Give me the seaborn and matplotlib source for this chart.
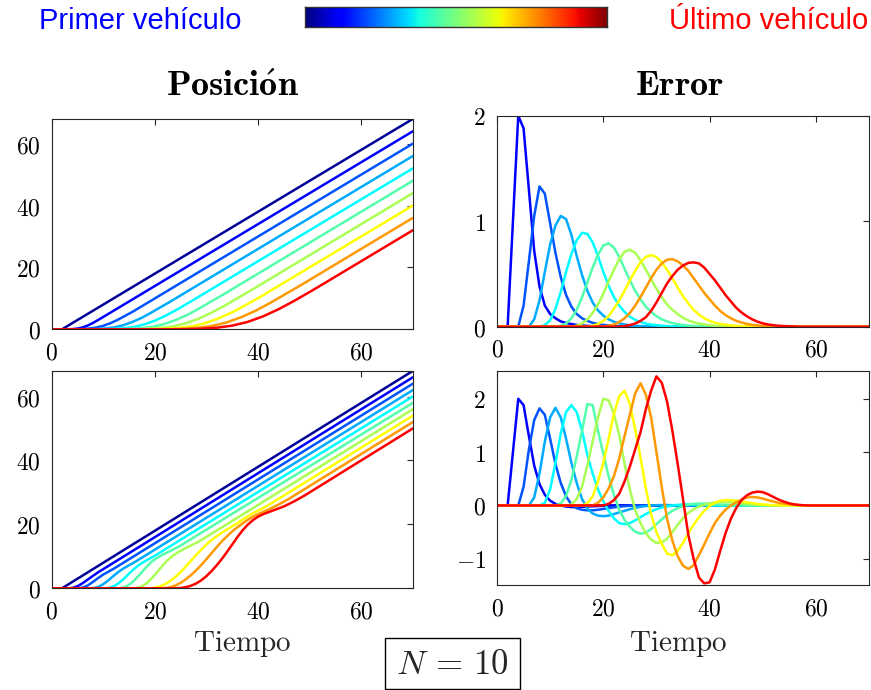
import numpy as np
import pandas as pd
import matplotlib
matplotlib.use("Agg")
import matplotlib.pyplot as plt
import seaborn as sns
from matplotlib.patches import Rectangle
from matplotlib.ticker import FuncFormatter, FixedLocator

# ---------------- data ----------------
vehicles = [1, 2, 3, 4, 5, 6, 7, 8, 9, 10]
line_colors = [(0, 0, 0.6), (0, 0, 1), (0, 0.33, 1), (0, 0.67, 1), (0, 1, 1),
               (0.33, 1, 0.67), (0.67, 1, 0.33), (1, 1, 0), (1, 0.6, 0), (1, 0, 0)]
t_final = 70

# Position (top row): knots (time, position) per vehicle
pos_top_t = [
    [0, 2, 70],
    [0, 2, 3, 4, 5, 6, 7, 8, 9, 10, 70],
    [0, 3, 4.3, 5.8, 7.2, 8.6, 10, 11.4, 12.8, 14.2, 15.7, 17.1, 70],
    [0, 5.3, 7.1, 8.8, 10.5, 12.3, 14, 15.7, 17.5, 19.2, 20.9, 22.7, 70],
    [0, 8, 10, 12, 14, 16, 18, 20, 22, 24, 26, 28, 70],
    [0, 10.8, 13.1, 15.3, 17.5, 19.8, 22, 24.2, 26.5, 28.7, 30.9, 33.2, 70],
    [0, 13.8, 16.2, 18.7, 21.1, 23.6, 26, 28.5, 30.9, 33.4, 35.8, 38.3, 70],
    [0, 16.8, 19.4, 22.1, 24.7, 27.4, 30, 32.6, 35.3, 37.9, 40.6, 43.2, 70],
    [0, 19.9, 22.7, 25.5, 28.3, 31.2, 34, 36.8, 39.7, 42.5, 45.3, 48.2, 70],
    [0, 23, 26, 29, 32, 35, 38, 41, 44, 47, 50, 53, 70],
]
pos_top_x = [
    [0, 0, 68],
    [0, 0, 0.01, 0.06, 0.23, 0.6, 1.23, 2.06, 3.01, 4.0, 64],
    [0, 0.01, 0.02, 0.08, 0.24, 0.56, 1.13, 1.98, 3.07, 4.33, 5.68, 7.08, 60],
    [0, 0.01, 0.03, 0.1, 0.29, 0.68, 1.38, 2.41, 3.75, 5.29, 6.95, 8.66, 56],
    [0, 0.01, 0.03, 0.12, 0.33, 0.79, 1.6, 2.79, 4.33, 6.12, 8.03, 10.01, 52],
    [0, 0.01, 0.04, 0.13, 0.37, 0.88, 1.78, 3.12, 4.84, 6.84, 8.98, 11.18, 48],
    [0, 0.01, 0.04, 0.14, 0.41, 0.97, 1.96, 3.42, 5.31, 7.49, 9.84, 12.26, 44],
    [0, 0.01, 0.05, 0.16, 0.44, 1.05, 2.11, 3.69, 5.73, 8.09, 10.63, 13.24, 40],
    [0, 0.01, 0.05, 0.17, 0.47, 1.12, 2.26, 3.95, 6.13, 8.66, 11.37, 14.16, 36],
    [0, 0.01, 0.05, 0.18, 0.5, 1.19, 2.39, 4.19, 6.5, 9.18, 12.05, 15.01, 32],
]

# Position (bottom row): knots (time, position) per vehicle
pos_bot_t = [
    [0, 2, 70],
    [0, 3, 4, 5, 6, 7, 8, 9, 70],
    [0, 5, 6, 7, 8, 9, 10, 11, 12, 70],
    [0, 7.5, 8, 9, 10, 11, 12, 13, 14, 15, 16, 70],
    [0, 10, 11, 12, 13, 14, 15, 16, 17, 18, 19, 20, 70],
    [0, 12.5, 13.5, 14.5, 15.5, 16.5, 17.5, 18.5, 19.5, 20.5, 21.5, 22.5, 23.5, 24.5, 70],
    [0, 15.5, 16.5, 17.5, 18.5, 19.5, 20.5, 21.5, 22.5, 23.5, 24.5, 25.5, 26.5, 27.5, 28.5, 70],
    [0, 19, 20, 21, 22, 23, 24, 25, 26, 27, 28, 29, 30, 31, 32, 33, 34, 35, 36, 37,
     38, 39, 40, 41, 42, 43, 70],
    [0, 21, 22, 23, 24, 25, 26, 27, 28, 29, 30, 31, 32, 33, 34, 35, 36, 37, 38, 39,
     40, 41, 42, 43, 44, 45, 46, 47, 48, 70],
    [0, 24, 25, 26, 27, 28, 29, 30, 31, 32, 33, 34, 35, 36, 37, 38, 39, 40, 41, 42,
     43, 44, 45, 46, 47, 48, 49, 50, 70],
]
pos_bot_x = [
    [0, 0, 68],
    [0, 0, 0.1, 0.65, 1.6, 2.75, 3.9, 5.0, 66],
    [0, 0, 0.2, 0.9, 2.0, 3.2, 4.3, 5.2, 6.1, 64],
    [0, 0, 0.05, 0.4, 1.3, 2.5, 3.9, 5.2, 6.3, 7.2, 8.1, 62],
    [0, 0, 0.1, 0.6, 1.6, 3.0, 4.6, 6.1, 7.4, 8.4, 9.3, 10.2, 60],
    [0, 0, 0.1, 0.6, 1.7, 3.3, 5.1, 6.9, 8.5, 9.6, 10.5, 11.3, 12.1, 12.9, 58],
    [0, 0, 0.1, 0.6, 1.7, 3.3, 5.2, 7.1, 8.8, 10.2, 11.3, 12.2, 13.0, 13.8, 14.6, 56],
    [0, 0, 0.2, 0.6, 1.3, 2.3, 3.6, 5.1, 6.8, 8.6, 10.4, 12.1, 13.7, 15.1, 16.3, 17.4,
     18.4, 19.4, 20.4, 21.5, 22.5, 23.5, 24.3, 25.1, 26.0, 27.0, 54],
    [0, 0, 0.1, 0.35, 0.9, 1.7, 2.8, 4.1, 5.6, 7.3, 9.1, 11.0, 12.9, 14.7, 16.3, 17.8,
     19.1, 20.3, 21.4, 22.4, 23.2, 23.9, 24.6, 25.4, 26.2, 27.1, 28.0, 29.0, 30.0, 52],
    [0, 0, 0.1, 0.35, 0.8, 1.5, 2.5, 3.8, 5.4, 7.2, 9.2, 11.4, 13.7, 16.0, 18.1, 19.9,
     21.3, 22.4, 23.2, 23.8, 24.4, 25.0, 25.6, 26.4, 27.2, 28.1, 29.0, 30.0, 50],
]

# Error (top row): values every time unit, starting at err_top_start (zero elsewhere)
err_top_start = [0, 2, 4, 6, 8, 11, 14, 17, 20, 23]
err_top_vals = [
    [0],
    [0, 1.0, 2.0, 1.88, 1.3, 0.72, 0.38, 0.2, 0.12, 0.08, 0.05, 0.035, 0.025, 0.017,
     0.012, 0.008, 0.005, 0.003, 0],
    [0, 0.2, 0.62, 1.05, 1.33, 1.26, 0.98, 0.7, 0.47, 0.3, 0.19, 0.12, 0.08, 0.055,
     0.037, 0.025, 0.017, 0.011, 0.007, 0.004, 0.002, 0],
    [0, 0.07, 0.25, 0.52, 0.78, 0.96, 1.05, 1.02, 0.87, 0.67, 0.49, 0.34, 0.23, 0.155,
     0.105, 0.07, 0.047, 0.032, 0.021, 0.014, 0.009, 0.006, 0.004, 0.002, 0],
    [0, 0.015, 0.06, 0.17, 0.33, 0.52, 0.69, 0.82, 0.89, 0.88, 0.8, 0.67, 0.52, 0.39,
     0.28, 0.2, 0.14, 0.095, 0.065, 0.045, 0.03, 0.02, 0.014, 0.009, 0.006, 0.004, 0.002, 0],
    [0, 0.01, 0.03, 0.08, 0.16, 0.28, 0.42, 0.56, 0.68, 0.77, 0.79, 0.75, 0.66, 0.55,
     0.44, 0.34, 0.26, 0.19, 0.14, 0.1, 0.07, 0.05, 0.035, 0.024, 0.016, 0.011, 0.007,
     0.004, 0.002, 0],
    [0, 0.01, 0.03, 0.07, 0.13, 0.21, 0.31, 0.43, 0.54, 0.64, 0.71, 0.73, 0.7, 0.63,
     0.54, 0.45, 0.36, 0.28, 0.21, 0.16, 0.12, 0.085, 0.06, 0.043, 0.03, 0.021, 0.014,
     0.01, 0.006, 0.004, 0.002, 0],
    [0, 0.01, 0.025, 0.055, 0.1, 0.17, 0.25, 0.34, 0.44, 0.53, 0.61, 0.66, 0.68, 0.66,
     0.61, 0.54, 0.46, 0.37, 0.29, 0.22, 0.16, 0.115, 0.08, 0.055, 0.038, 0.026, 0.018,
     0.012, 0.008, 0.005, 0.003, 0.001, 0],
    [0, 0.008, 0.02, 0.045, 0.08, 0.13, 0.2, 0.28, 0.37, 0.46, 0.54, 0.6, 0.635, 0.64,
     0.62, 0.58, 0.53, 0.46, 0.39, 0.32, 0.26, 0.2, 0.15, 0.11, 0.08, 0.056, 0.04, 0.027,
     0.018, 0.012, 0.008, 0.005, 0.003, 0.001, 0],
    [0, 0.006, 0.015, 0.03, 0.055, 0.09, 0.15, 0.23, 0.32, 0.41, 0.48, 0.54, 0.58, 0.605,
     0.61, 0.6, 0.56, 0.5, 0.44, 0.37, 0.3, 0.24, 0.18, 0.135, 0.1, 0.07, 0.048, 0.032,
     0.021, 0.014, 0.009, 0.006, 0.004, 0.002, 0],
]

# Error (bottom row)
err_bot_start = [0, 2, 4, 6, 8, 11, 13, 16, 18, 20]
err_bot_vals = [
    [0],
    [0, 1.0, 2.0, 1.88, 1.3, 0.75, 0.4, 0.2, 0.09, 0.03, 0.0, -0.02, -0.03, -0.03,
     -0.025, -0.02, -0.015, -0.01, -0.006, -0.003, 0],
    [0, 0.35, 1.05, 1.6, 1.82, 1.7, 1.25, 0.78, 0.42, 0.17, 0.02, -0.05, -0.08, -0.09,
     -0.09, -0.08, -0.065, -0.05, -0.035, -0.022, -0.012, -0.005, 0, 0.002, 0.002, 0.001, 0],
    [0, 0.15, 0.6, 1.2, 1.65, 1.83, 1.65, 1.25, 0.8, 0.42, 0.12, -0.06, -0.15, -0.19,
     -0.2, -0.19, -0.16, -0.13, -0.1, -0.07, -0.045, -0.025, -0.01, 0.0, 0.006, 0.008,
     0.008, 0.006, 0.004, 0.002, 0],
    [0, 0.05, 0.3, 0.8, 1.35, 1.75, 1.88, 1.75, 1.4, 0.95, 0.6, 0.3, 0.08, -0.1, -0.24,
     -0.33, -0.35, -0.33, -0.28, -0.22, -0.16, -0.11, -0.07, -0.04, -0.02, 0.0, 0.012,
     0.018, 0.02, 0.018, 0.014, 0.01, 0.006, 0.003, 0.001, 0],
    [0, 0.04, 0.18, 0.48, 0.92, 1.4, 1.9, 1.88, 1.4, 0.97, 0.55, 0.2, -0.08, -0.27, -0.4,
     -0.49, -0.53, -0.51, -0.44, -0.35, -0.26, -0.17, -0.1, -0.05, -0.01, 0.015, 0.03,
     0.035, 0.035, 0.03, 0.024, 0.018, 0.012, 0.007, 0.004, 0.002, 0],
    [0, 0.02, 0.12, 0.35, 0.75, 1.2, 1.65, 2.0, 1.97, 1.72, 1.32, 0.78, 0.3, -0.08,
     -0.33, -0.52, -0.64, -0.7, -0.69, -0.62, -0.5, -0.36, -0.24, -0.14, -0.07, -0.02,
     0.015, 0.04, 0.055, 0.065, 0.065, 0.06, 0.05, 0.04, 0.03, 0.02, 0.013, 0.008,
     0.004, 0.002, 0],
    [0, 0.04, 0.17, 0.45, 0.8, 1.25, 1.72, 2.05, 2.15, 1.9, 1.43, 0.9, 0.33, -0.17,
     -0.5, -0.72, -0.9, -0.93, -0.85, -0.7, -0.52, -0.36, -0.22, -0.1, -0.01, 0.05,
     0.09, 0.1, 0.1, 0.09, 0.075, 0.06, 0.045, 0.03, 0.02, 0.012, 0.006, 0.002, 0],
    [0, 0.05, 0.15, 0.32, 0.55, 0.88, 1.3, 1.7, 2.1, 2.29, 2.08, 1.65, 1.0, 0.35, -0.25,
     -0.66, -0.95, -1.13, -1.19, -1.12, -0.93, -0.73, -0.52, -0.33, -0.19, -0.08, 0.0,
     0.06, 0.11, 0.15, 0.16, 0.15, 0.13, 0.1, 0.075, 0.05, 0.035, 0.022, 0.013, 0.007,
     0.003, 0],
    [0, 0.03, 0.1, 0.22, 0.45, 0.73, 1.05, 1.37, 1.8, 2.15, 2.42, 2.3, 1.95, 1.4, 0.78,
     0.12, -0.55, -1.0, -1.35, -1.46, -1.44, -1.2, -0.85, -0.52, -0.25, -0.05, 0.1,
     0.19, 0.24, 0.26, 0.25, 0.21, 0.16, 0.11, 0.07, 0.04, 0.02, 0.008, 0.002, 0],
]

xticks = [0, 20, 40, 60]
pos_yticks = [0, 20, 40, 60]
err_top_yticks = [0, 1, 2]
err_bot_yticks = [-1, 0, 1, 2]
header_left = "Primer vehículo"
header_right = "Último vehículo"


# ---------------- tables ----------------
def knots_frame(ts, xs):
    rows = []
    for v, tt, xx in zip(vehicles, ts, xs):
        for a, b in zip(tt, xx):
            rows.append((v, a, b))
    return pd.DataFrame(rows, columns=["vehiculo", "t", "y"])


def series_frame(starts, vals):
    rows = []
    for v, s, vv in zip(vehicles, starts, vals):
        full = [0.0] * (t_final + 1)
        for k, val in enumerate(vv):
            full[s + k] = val
        for t, val in enumerate(full):
            rows.append((v, t, val))
    return pd.DataFrame(rows, columns=["vehiculo", "t", "y"])


df_pos_top = knots_frame(pos_top_t, pos_top_x)
df_pos_bot = knots_frame(pos_bot_t, pos_bot_x)
df_err_top = series_frame(err_top_start, err_top_vals)
df_err_bot = series_frame(err_bot_start, err_bot_vals)

# ---------------- figure ----------------
sns.set_theme(style="white")
plt.rcParams["mathtext.fontset"] = "cm"
W, H = 871, 690
fig = plt.figure(figsize=(W / 100, H / 100), dpi=100)


def px_axes(left, top, right, bottom):
    return fig.add_axes([left / W, 1 - bottom / H, (right - left) / W, (bottom - top) / H])


ax_tl = px_axes(51.7, 119, 412.7, 329.3)
ax_tr = px_axes(497, 115.7, 869, 326.7)
ax_bl = px_axes(51.7, 371, 412.7, 588.3)
ax_br = px_axes(497, 371, 869, 585)

palette = dict(zip(vehicles, line_colors))
panels = [
    (ax_tl, df_pos_top, (0, 68), pos_yticks),
    (ax_tr, df_err_top, (0, 2.0), err_top_yticks),
    (ax_bl, df_pos_bot, (0, 68), pos_yticks),
    (ax_br, df_err_bot, (-1.49, 2.52), err_bot_yticks),
]
fmt = FuncFormatter(lambda v, p: "$%g$" % v)
for ax, df, ylim, yt in panels:
    sns.lineplot(data=df, x="t", y="y", hue="vehiculo", palette=palette,
                 estimator=None, sort=False, legend=False, linewidth=1.8, ax=ax)
    ax.set_xlim(0, 70)
    ax.set_ylim(*ylim)
    ax.xaxis.set_major_locator(FixedLocator(xticks))
    ax.yaxis.set_major_locator(FixedLocator(yt))
    ax.xaxis.set_major_formatter(fmt)
    ax.yaxis.set_major_formatter(fmt)
    ax.set_xlabel("")
    ax.set_ylabel("")
    ax.tick_params(direction="in", length=4, width=0.8, top=True, right=True,
                   color="#262626", labelcolor="black", labelsize=17)
    ax.tick_params(axis="x", pad=8)
    ax.tick_params(axis="y", pad=8)
    for sp in ax.spines.values():
        sp.set_visible(True)
        sp.set_color("#262626")
        sp.set_linewidth(0.8)


def fx(x):
    return x / W


def fy(y):
    return 1 - y / H


# titles
fig.text(fx(233), fy(96), r"$\mathbf{Posici\acute{o}n}$", ha="center", va="baseline",
         fontsize=26, color="black")
fig.text(fx(679), fy(95), r"$\mathbf{Error}$", ha="center", va="baseline", fontsize=26,
         color="black")
# x labels
fig.text(fx(242), fy(651), r"$\mathrm{Tiempo}$", ha="center", va="baseline", fontsize=21)
fig.text(fx(678), fy(651), r"$\mathrm{Tiempo}$", ha="center", va="baseline", fontsize=21)
# N box
fig.patches.append(Rectangle((fx(384.5), fy(689)), (520 - 384.5) / W, (689 - 638) / H,
                             transform=fig.transFigure, fill=False, edgecolor="black",
                             linewidth=1.0))
fig.text(fx(452), fy(664), r"$N\,=\,10$", ha="center", va="center", fontsize=25)

# header
fig.text(fx(39), fy(29), header_left, ha="left", va="baseline", color=(0, 0, 1),
         fontsize=21, family="Liberation Sans")
fig.text(fx(868), fy(29), header_right, ha="right", va="baseline", color=(1, 0, 0),
         fontsize=21, family="Liberation Sans")
ax_cb = px_axes(305, 7.3, 607, 26.7)
ax_cb.imshow(np.linspace(0, 1, 256)[None, :], cmap="jet", aspect="auto")
ax_cb.set_xticks([])
ax_cb.set_yticks([])
for sp in ax_cb.spines.values():
    sp.set_visible(True)
    sp.set_color("#333333")
    sp.set_linewidth(1.0)

fig.savefig("out.png", dpi=100)
